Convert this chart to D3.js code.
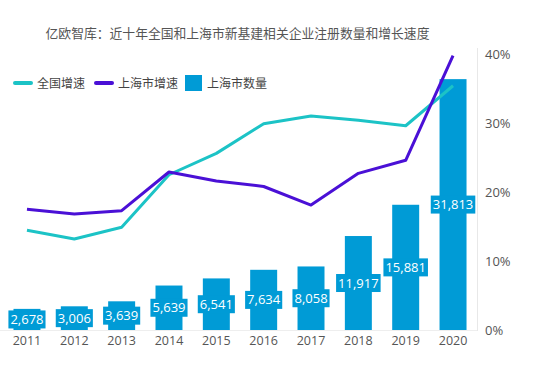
<!DOCTYPE html>
<html><head><meta charset="utf-8">
<script src="https://cdn.jsdelivr.net/npm/d3@7"></script>
<style>body{margin:0;background:#fff;}svg{display:block;font-family:"Open Sans","Noto Sans CJK SC",sans-serif;}</style>
</head><body>
<svg id="c" width="535" height="384"></svg>
<script>
const years = ["2011","2012","2013","2014","2015","2016","2017","2018","2019","2020"];
const shCount = [2678,3006,3639,5639,6541,7634,8058,11917,15881,31813];
const nationalGrowth = [14.45,13.2,14.9,22.5,25.6,29.9,31.0,30.4,29.6,35.4];
const shGrowth = [17.5,16.8,17.3,22.9,21.6,20.8,18.1,22.7,24.6,39.75];
const pctTicks = [0,10,20,30,40];
const title = "亿欧智库：近十年全国和上海市新基建相关企业注册数量和增长速度";
const legendNames = ["全国增速","上海市增速","上海市数量"];

const C_NAT = "#1cc3c6", C_SH = "#4a10d6", C_BAR = "#009bd6";
const svg = d3.select("#c");
const x = d3.scaleBand().domain(years).range([3.3, 476.7]).paddingInner(0.43).paddingOuter(0.215);
const yBar = d3.scaleLinear().domain([0,35000]).range([330,54]);
const yPct = d3.scaleLinear().domain([0,40]).range([330,54]);

svg.append("text").attr("x",237.5).attr("y",38).attr("text-anchor","middle")
  .attr("font-size",12.8).attr("fill","#555").attr("font-family","'Noto Sans CJK SC',sans-serif").text(title);

// baseline
svg.append("line").attr("x1",0).attr("x2",477).attr("y1",330.5).attr("y2",330.5).attr("stroke","#eee");
// right axis line
svg.append("line").attr("x1",477.5).attr("x2",477.5).attr("y1",48).attr("y2",331).attr("stroke","#e8e8e8");

// right axis
const ax = svg.append("g").attr("transform","translate(477,0)")
  .call(d3.axisRight(yPct).tickValues(pctTicks).tickFormat(d=>d+"%").tickSize(0).tickPadding(8));
ax.select(".domain").remove();
ax.selectAll("text").attr("font-size",13).attr("fill","#555").attr("font-family","'Open Sans',sans-serif");

// x axis
const xa = svg.append("g").attr("transform","translate(0,330)")
  .call(d3.axisBottom(x).tickSize(0).tickPadding(6));
xa.select(".domain").remove();
xa.selectAll("text").attr("font-size",12.5).attr("fill","#555").attr("font-family","'Open Sans',sans-serif");

// bars
svg.selectAll("rect.bar").data(shCount).join("rect").attr("class","bar")
  .attr("x",(d,i)=>x(years[i])).attr("width",x.bandwidth())
  .attr("y",d=>yBar(d)).attr("height",d=>330-yBar(d)).attr("fill",C_BAR);

// lines
const line = d3.line().x((d,i)=>x(years[i])+x.bandwidth()/2);
svg.append("path").attr("d",line.y(d=>yPct(d))(nationalGrowth)).attr("fill","none")
  .attr("stroke",C_NAT).attr("stroke-width",3).attr("stroke-linejoin","round");
svg.append("path").attr("d",line.y(d=>yPct(d))(shGrowth)).attr("fill","none")
  .attr("stroke",C_SH).attr("stroke-width",3).attr("stroke-linejoin","round");

// bar labels
const fmt = d3.format(",");
const lg = svg.selectAll("g.lbl").data(shCount).join("g").attr("class","lbl")
  .attr("transform",(d,i)=>`translate(${x(years[i])+x.bandwidth()/2},${(yBar(d)+330)/2})`);
lg.each(function(d){
  const g = d3.select(this);
  const t = g.append("text").attr("text-anchor","middle").attr("dy","0.35em")
    .attr("font-size",13).attr("fill","#fff").attr("font-family","'Open Sans',sans-serif").text(fmt(d));
  const w = t.node().getComputedTextLength();
  g.insert("rect","text").attr("x",-w/2-2).attr("y",-9).attr("width",w+4).attr("height",18).attr("fill",C_BAR);
});

// legend
const leg = svg.append("g").attr("font-family","'Noto Sans CJK SC',sans-serif").attr("font-size",12).attr("fill","#444");
leg.append("line").attr("x1",15).attr("x2",31).attr("y1",83).attr("y2",83).attr("stroke",C_NAT).attr("stroke-width",4).attr("stroke-linecap","round");
leg.append("text").attr("x",37).attr("y",87.5).text(legendNames[0]);
leg.append("line").attr("x1",96).attr("x2",112).attr("y1",83).attr("y2",83).attr("stroke",C_SH).attr("stroke-width",4).attr("stroke-linecap","round");
leg.append("text").attr("x",118).attr("y",87.5).text(legendNames[1]);
leg.append("rect").attr("x",185).attr("y",75).attr("width",17).attr("height",16).attr("fill",C_BAR);
leg.append("text").attr("x",207).attr("y",87.5).text(legendNames[2]);
</script>
</body></html>
